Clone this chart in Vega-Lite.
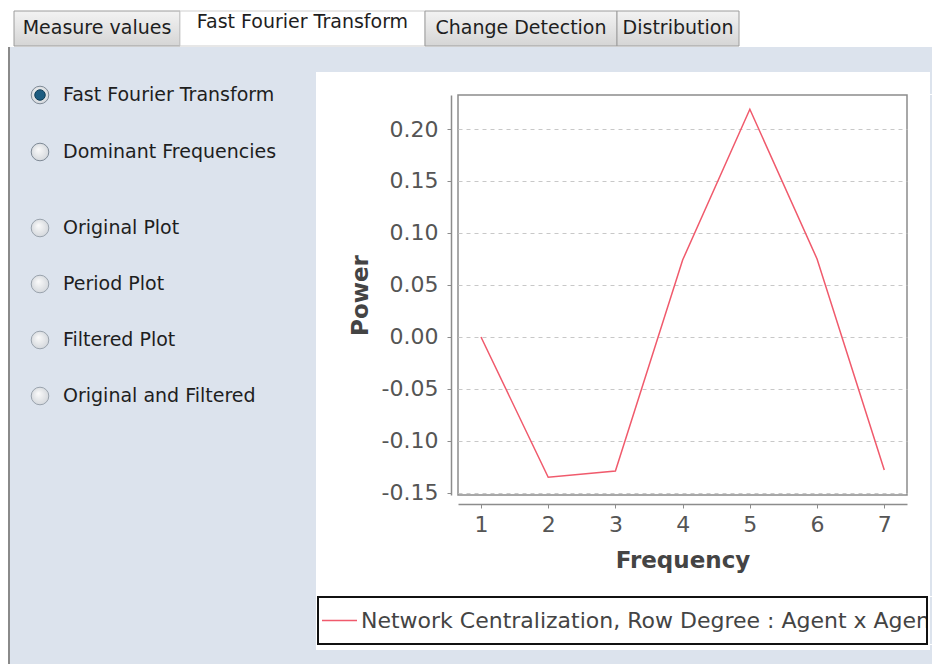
{
  "$schema": "https://vega.github.io/schema/vega-lite/v6.json",
  "background": "white",
  "padding": 0,
  "spacing": 0,
  "config": {"view": {"stroke": null}, "font": "DejaVu Sans"},
  "datasets": {
    "fft": [
      {"frequency": 1, "power": 0.0, "series": "Network Centralization, Row Degree : Agent x Agent"},
      {"frequency": 2, "power": -0.135, "series": "Network Centralization, Row Degree : Agent x Agent"},
      {"frequency": 3, "power": -0.129, "series": "Network Centralization, Row Degree : Agent x Agent"},
      {"frequency": 4, "power": 0.074, "series": "Network Centralization, Row Degree : Agent x Agent"},
      {"frequency": 5, "power": 0.219, "series": "Network Centralization, Row Degree : Agent x Agent"},
      {"frequency": 6, "power": 0.075, "series": "Network Centralization, Row Degree : Agent x Agent"},
      {"frequency": 7, "power": -0.128, "series": "Network Centralization, Row Degree : Agent x Agent"}
    ],
    "radioA": [
      {"label": "Fast Fourier Transform", "selected": true},
      {"label": "Dominant Frequencies", "selected": false}
    ],
    "radioB": [
      {"label": "Original Plot", "selected": false},
      {"label": "Period Plot", "selected": false},
      {"label": "Filtered Plot", "selected": false},
      {"label": "Original and Filtered", "selected": false}
    ]
  },
  "vconcat": [
    {"width": 932, "height": 10, "data": {"values": []}, "mark": "rect"},
    {
      "hconcat": [
        {"width": 14, "height": 35, "data": {"values": []}, "mark": "rect"},
        {
          "width": 166, "height": 35,
          "data": {"values": [{"tab": "Measure values"}]},
          "layer": [
            {"mark": {"type": "rect", "fill": {"gradient": "linear", "x1": 0, "y1": 0, "x2": 0, "y2": 1, "stops": [{"offset": 0, "color": "#f3f3f3"}, {"offset": 1, "color": "#d5d5d5"}]}, "stroke": "#9c9c9c", "strokeWidth": 1}, "encoding": {}},
            {"mark": {"type": "text", "fontSize": 19, "color": "#1e1e1e", "baseline": "middle", "dy": -1}, "encoding": {"text": {"field": "tab"}}}
          ]
        },
        {
          "width": 245, "height": 35,
          "data": {"values": [{"tab": "Fast Fourier Transform"}]},
          "layer": [
            {"mark": {"type": "rect", "fill": "white", "stroke": "#cfcfcf", "strokeWidth": 1}, "encoding": {}},
            {"mark": {"type": "text", "fontSize": 19, "color": "#1e1e1e", "baseline": "middle", "dy": -7}, "encoding": {"text": {"field": "tab"}}}
          ]
        },
        {
          "width": 192, "height": 35,
          "data": {"values": [{"tab": "Change Detection"}]},
          "layer": [
            {"mark": {"type": "rect", "fill": {"gradient": "linear", "x1": 0, "y1": 0, "x2": 0, "y2": 1, "stops": [{"offset": 0, "color": "#f3f3f3"}, {"offset": 1, "color": "#d5d5d5"}]}, "stroke": "#9c9c9c", "strokeWidth": 1}, "encoding": {}},
            {"mark": {"type": "text", "fontSize": 19, "color": "#1e1e1e", "baseline": "middle", "dy": -1}, "encoding": {"text": {"field": "tab"}}}
          ]
        },
        {
          "width": 122, "height": 35,
          "data": {"values": [{"tab": "Distribution"}]},
          "layer": [
            {"mark": {"type": "rect", "fill": {"gradient": "linear", "x1": 0, "y1": 0, "x2": 0, "y2": 1, "stops": [{"offset": 0, "color": "#f3f3f3"}, {"offset": 1, "color": "#d5d5d5"}]}, "stroke": "#9c9c9c", "strokeWidth": 1}, "encoding": {}},
            {"mark": {"type": "text", "fontSize": 19, "color": "#1e1e1e", "baseline": "middle", "dy": -1}, "encoding": {"text": {"field": "tab"}}}
          ]
        },
        {"width": 193, "height": 35, "data": {"values": []}, "mark": "rect"}
      ],
      "spacing": 0,
      "bounds": "flush"
    },
    {
      "hconcat": [
        {"width": 8, "height": 619, "data": {"values": []}, "mark": "rect"},
        {"width": 2, "height": 619, "data": {"values": [{}]}, "mark": {"type": "rect", "color": "#8a8a8a"}, "encoding": {}},
        {
          "vconcat": [
            {
              "width": 306, "height": 153,
              "data": {"name": "radioA"},
              "layer": [
                {"mark": {"type": "rect", "color": "#dce3ed"}, "encoding": {}},
                {"mark": {"type": "point", "shape": "circle", "size": 310, "filled": true, "fill": {"gradient": "radial", "x1": 0.4, "y1": 0.35, "x2": 0.5, "y2": 0.5, "r1": 0, "r2": 0.6, "stops": [{"offset": 0, "color": "#fbfbfb"}, {"offset": 1, "color": "#cfd3d8"}]}, "stroke": "#7f8a96", "strokeWidth": 1, "xOffset": -123, "opacity": 1},
                 "encoding": {"y": {"field": "label", "type": "nominal", "sort": null, "scale": {"type": "point", "padding": 0.842}, "axis": null}}},
                {"transform": [{"filter": "datum.selected"}],
                 "mark": {"type": "point", "shape": "circle", "size": 110, "filled": true, "color": "#1d5c80", "stroke": "#0f3d57", "strokeWidth": 1, "xOffset": -123, "opacity": 1},
                 "encoding": {"y": {"field": "label", "type": "nominal", "sort": null, "scale": {"type": "point", "padding": 0.842}, "axis": null}}},
                {"mark": {"type": "text", "align": "left", "baseline": "middle", "dx": -100, "fontSize": 19, "color": "#1e1e1e"},
                 "encoding": {"y": {"field": "label", "type": "nominal", "sort": null, "scale": {"type": "point", "padding": 0.842}, "axis": null}, "text": {"field": "label"}}}
              ]
            },
            {
              "width": 306, "height": 224,
              "data": {"name": "radioB"},
              "layer": [
                {"mark": {"type": "rect", "color": "#dce3ed"}, "encoding": {}},
                {"mark": {"type": "point", "shape": "circle", "size": 310, "filled": true, "fill": {"gradient": "radial", "x1": 0.4, "y1": 0.35, "x2": 0.5, "y2": 0.5, "r1": 0, "r2": 0.6, "stops": [{"offset": 0, "color": "#fbfbfb"}, {"offset": 1, "color": "#cfd3d8"}]}, "stroke": "#9aa3ad", "strokeWidth": 1, "xOffset": -123, "opacity": 1},
                 "encoding": {"y": {"field": "label", "type": "nominal", "sort": null, "scale": {"type": "point", "padding": 0.5}, "axis": null}}},
                {"mark": {"type": "text", "align": "left", "baseline": "middle", "dx": -100, "fontSize": 19, "color": "#1e1e1e"},
                 "encoding": {"y": {"field": "label", "type": "nominal", "sort": null, "scale": {"type": "point", "padding": 0.5}, "axis": null}, "text": {"field": "label"}}}
              ]
            },
            {"width": 306, "height": 242, "data": {"values": [{}]}, "mark": {"type": "rect", "color": "#dce3ed"}, "encoding": {}}
          ],
          "spacing": 0
        },
        {
          "vconcat": [
            {"width": 616, "height": 25, "data": {"values": [{}]}, "mark": {"type": "rect", "color": "#dce3ed"}, "encoding": {}},
            {
              "hconcat": [
                {"width": 614, "height": 22, "data": {"values": []}, "mark": "rect"},
                {"width": 2, "height": 22, "data": {"values": [{}]}, "mark": {"type": "rect", "color": "#dce3ed"}, "encoding": {}}
              ],
              "spacing": 0, "bounds": "flush"
            },
            {
              "hconcat": [
                {"width": 142, "height": 501, "data": {"values": []}, "mark": "rect"},
                {
                  "width": 449, "height": 400,
                  "view": {"stroke": "#8c8c8c", "strokeWidth": 1.5},
                  "data": {"name": "fft"},
                  "mark": {"type": "line", "color": "#f05a6c", "strokeWidth": 1.5},
                  "encoding": {
                    "x": {"field": "frequency", "type": "quantitative",
                      "scale": {"domain": [0.658, 7.338], "nice": false, "zero": false},
                      "axis": {"title": "Frequency", "values": [1, 2, 3, 4, 5, 6, 7], "format": "d", "offset": 9, "grid": false,
                        "domainColor": "#8c8c8c", "domainWidth": 1.5, "tickColor": "#8c8c8c", "tickSize": 4,
                        "labelFontSize": 22, "labelColor": "#555555", "labelPadding": 6, "labelFont": "DejaVu Sans",
                        "titleFontSize": 23, "titleFontWeight": "bold", "titleColor": "#444444", "titlePadding": 14, "titleFont": "DejaVu Sans"}},
                    "y": {"field": "power", "type": "quantitative",
                      "scale": {"domain": [-0.152, 0.2327], "nice": false, "zero": false},
                      "axis": {"title": "Power", "values": [-0.15, -0.1, -0.05, 0, 0.05, 0.1, 0.15, 0.2],
                        "labelExpr": "replace(format(datum.value, '.2f'), '\u2212', '-')", "offset": 7,
                        "grid": true, "gridColor": "#c8c8c8", "gridDash": [4, 4], "gridWidth": 1,
                        "domainColor": "#8c8c8c", "domainWidth": 1.5, "tickColor": "#8c8c8c", "tickSize": 4,
                        "labelFontSize": 22, "labelColor": "#555555", "labelPadding": 9, "labelFont": "DejaVu Sans",
                        "titleFontSize": 23, "titleFontWeight": "bold", "titleColor": "#444444", "titlePadding": 9, "titleFont": "DejaVu Sans"}}
                  }
                },
                {"width": 23, "height": 501, "data": {"values": []}, "mark": "rect"},
                {"width": 2, "height": 501, "data": {"values": [{}]}, "mark": {"type": "rect", "color": "#dce3ed"}, "encoding": {}}
              ],
              "spacing": 0, "bounds": "flush"
            },
            {
              "hconcat": [
                {"width": 2, "height": 47, "data": {"values": []}, "mark": "rect"},
                {
                  "width": 609, "height": 47,
                  "data": {"name": "fft"},
                  "transform": [{"aggregate": [{"op": "count", "as": "n"}], "groupby": ["series"]}],
                  "layer": [
                    {"mark": {"type": "rect", "fill": "white"}, "encoding": {}},
                    {"mark": {"type": "point", "shape": "M-1,0L1,0", "size": 1225, "filled": false, "color": "#f05a6c", "strokeWidth": 1.5, "xOffset": -283, "opacity": 1}, "encoding": {}},
                    {"mark": {"type": "text", "align": "left", "baseline": "middle", "dx": -261.5, "fontSize": 22, "color": "#444444", "clip": true}, "encoding": {"text": {"field": "series"}}},
                    {"mark": {"type": "rect", "filled": false, "fill": null, "stroke": "#111111", "strokeWidth": 2}, "encoding": {}}
                  ]
                },
                {"width": 3, "height": 47, "data": {"values": []}, "mark": "rect"},
                {"width": 2, "height": 47, "data": {"values": [{}]}, "mark": {"type": "rect", "color": "#dce3ed"}, "encoding": {}}
              ],
              "spacing": 0, "bounds": "flush"
            },
            {
              "hconcat": [
                {"width": 614, "height": 5, "data": {"values": []}, "mark": "rect"},
                {"width": 2, "height": 5, "data": {"values": [{}]}, "mark": {"type": "rect", "color": "#dce3ed"}, "encoding": {}}
              ],
              "spacing": 0, "bounds": "flush"
            },
            {"width": 616, "height": 19, "data": {"values": [{}]}, "mark": {"type": "rect", "color": "#dce3ed"}, "encoding": {}}
          ],
          "spacing": 0
        }
      ],
      "spacing": 0
    }
  ]
}
